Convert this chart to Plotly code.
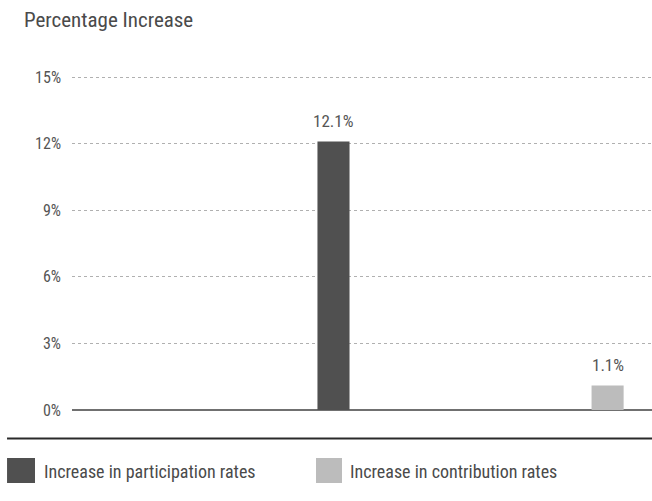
import plotly.graph_objects as go

# Series shown as two single bars
series_names = ["Increase in participation rates", "Increase in contribution rates"]
series_values = [12.1, 1.1]
series_pos = [0, 1]
series_colors = ["#505050", "#bcbcbc"]

tick_vals = [0, 3, 6, 9, 12, 15]
tick_text = ["0%", "3%", "6%", "9%", "12%", "15%"]

FONT = "Roboto Condensed, Liberation Sans Narrow, sans-serif"

fig = go.Figure()
annotations = []
for name, val, pos, col in zip(series_names, series_values, series_pos, series_colors):
    fig.add_trace(go.Bar(
        x=[pos], y=[val], name=name, width=0.117,
        marker=dict(color=col, line=dict(width=0)),
        showlegend=False,
    ))
    # value label floating above the bar
    annotations.append(dict(
        x=pos, y=val, xref="x", yref="y", text=f"{val:.1f}%",
        yanchor="bottom", yshift=9, showarrow=False,
        font=dict(family=FONT, size=17, color="#555555"),
    ))

# Rule under the chart and a swatch legend below it (paper coords, plot height 335 px)
H = 335.0
def py(pix):
    return (410 - pix) / H

shapes = [
    dict(type="line", xref="paper", yref="paper", x0=-0.112, x1=1.0, y0=py(438.5), y1=py(438.5),
         line=dict(color="#2a2a2a", width=2)),
]
annotations.append(dict(text="Percentage Increase", xref="paper", yref="paper", x=-0.087, y=py(20),
                        xanchor="left", yanchor="middle", showarrow=False,
                        font=dict(family=FONT, size=21, color="#4a4a4a")))
legend_x = [(-0.112, -0.0638, -0.052), (0.4207, 0.4655, 0.4755)]
for (x0, x1, xt), name, col in zip(legend_x, series_names, series_colors):
    shapes.append(dict(type="rect", xref="paper", yref="paper", x0=x0, x1=x1,
                       y0=py(483), y1=py(458), fillcolor=col, line=dict(width=0)))
    annotations.append(dict(text=name, xref="paper", yref="paper", x=xt, y=py(471),
                            xanchor="left", yanchor="middle", showarrow=False,
                            font=dict(family=FONT, size=18, color="#4a4a4a")))

fig.update_layout(
    width=652, height=501,
    margin=dict(l=72, r=0, t=75, b=91),
    paper_bgcolor="white", plot_bgcolor="white",
    barmode="overlay",
    shapes=shapes, annotations=annotations,
    xaxis=dict(range=[-0.954, 1.162], showticklabels=False, showgrid=False,
               zeroline=False, showline=False, fixedrange=True),
    yaxis=dict(range=[0, 15.1], tickvals=tick_vals, ticktext=tick_text,
               showgrid=True, gridcolor="#b0b0b0", griddash="dot", gridwidth=1,
               zeroline=True, zerolinecolor="#707070", zerolinewidth=1.5,
               ticks="", ticklabelstandoff=10,
               tickfont=dict(family=FONT, size=16, color="#555555")),
    showlegend=False,
)

fig.write_html("out.html")
